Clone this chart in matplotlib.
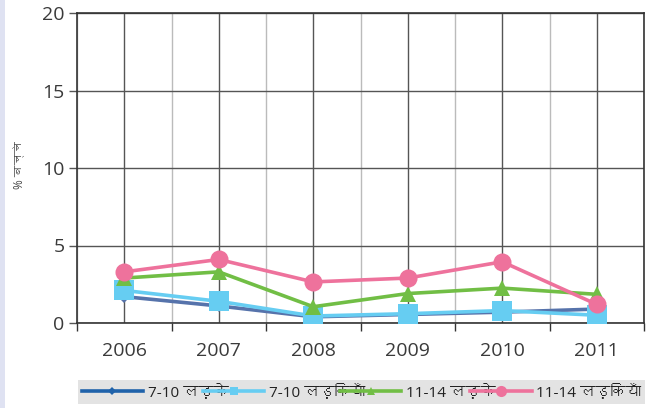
import matplotlib
matplotlib.use('Agg')
import matplotlib.pyplot as plt
from matplotlib import font_manager
from matplotlib.ft2font import FT2Font
from matplotlib.lines import Line2D
from matplotlib.patches import Rectangle
import numpy as np

years = ['2006', '2007', '2008', '2009', '2010', '2011']
boys_7_10 = [1.7, 1.1, 0.4, 0.55, 0.7, 0.9]
girls_7_10 = [2.1, 1.4, 0.45, 0.6, 0.8, 0.5]
boys_11_14 = [2.9, 3.3, 1.05, 1.9, 2.25, 1.85]
girls_11_14 = [3.3, 4.1, 2.65, 2.9, 3.95, 1.2]
series_labels = ['7-10 लड़के', '7-10 लड़कियाँ', '11-14 लड़के', '11-14 लड़कियाँ']
y_label = '% बच्चे'


def find_deva_font():
    # look for any installed font that has Devanagari glyphs
    for f in font_manager.fontManager.ttflist:
        try:
            cmap = FT2Font(f.fname).get_charmap()
        except Exception:
            continue
        if 0x0915 in cmap and 0x0932 in cmap:
            return f.name
    return None


deva = find_deva_font()
families = ['Open Sans']
if deva:
    families.append(deva)
families.append('DejaVu Sans')
plt.rcParams['font.family'] = families

fig = plt.figure(figsize=(6.52, 4.08), dpi=100)
fig.patches.append(Rectangle((0, 0), 5 / 652, 1, transform=fig.transFigure,
                             facecolor='#dfe2f2', edgecolor='none', zorder=0))
ax = fig.add_axes([77 / 652, 1 - 323 / 408, 567 / 652, 310 / 408])

x = np.arange(len(years))
styles = [
    (boys_7_10, '#5673ab', 'D', 6),
    (girls_7_10, '#66cdf2', 's', 14),
    (boys_11_14, '#71be45', '^', 12),
    (girls_11_14, '#ee729c', 'o', 13),
]
for vals, col, mk, ms in styles:
    ax.plot(x, vals, color=col, lw=2.6, marker=mk, markersize=ms,
            markeredgewidth=0, zorder=3)

ax.set_xlim(-0.5, len(years) - 0.5)
ax.set_ylim(0, 20)
ax.set_yticks([0, 5, 10, 15, 20])
ax.set_xticks(x)
ax.set_xticklabels(years)
ax.set_xticks(np.arange(-0.5, len(years)), minor=True)
ax.tick_params(axis='x', which='major', length=0, pad=14, labelsize=14, colors='#3a3a3a')
ax.tick_params(axis='x', which='minor', length=6, width=1, color='#333333')
ax.tick_params(axis='y', length=6, width=1, color='#555555', labelsize=14,
               labelcolor='#3a3a3a', pad=3)
ax.grid(axis='x', which='major', color='#555555', lw=1)
ax.grid(axis='x', which='minor', color='#bbbbbb', lw=1)
ax.grid(axis='y', which='major', color='#555555', lw=1)
ax.set_axisbelow(True)
for s in ax.spines.values():
    s.set_color('#333333')
    s.set_linewidth(1.2)

fig.text(20 / 652, 1 - 165 / 408, y_label, rotation=90, ha='center', va='center',
         fontsize=8.5, color='#444444')

handles = [
    Line2D([], [], color='#1f62aa', lw=2.6, marker='D', markersize=4, markeredgewidth=0),
    Line2D([], [], color='#66cdf2', lw=2.6, marker='s', markersize=6, markeredgewidth=0),
    Line2D([], [], color='#71be45', lw=2.6, marker='^', markersize=6, markeredgewidth=0),
    Line2D([], [], color='#ee729c', lw=2.6, marker='o', markersize=8, markeredgewidth=0),
]
leg = fig.legend(handles, series_labels, loc='lower left', ncol=4,
                 bbox_to_anchor=(78 / 652, 4 / 408, 567 / 652, 27 / 408), mode='expand',
                 frameon=True, fontsize=11, handlelength=4.0, handletextpad=0.3,
                 columnspacing=0.3, borderpad=0.25, borderaxespad=0, fancybox=False)
leg.get_frame().set_facecolor('#dcdcdc')
leg.get_frame().set_edgecolor('none')
for t in leg.get_texts():
    t.set_color('#222222')

fig.savefig('out.png', dpi=100)
